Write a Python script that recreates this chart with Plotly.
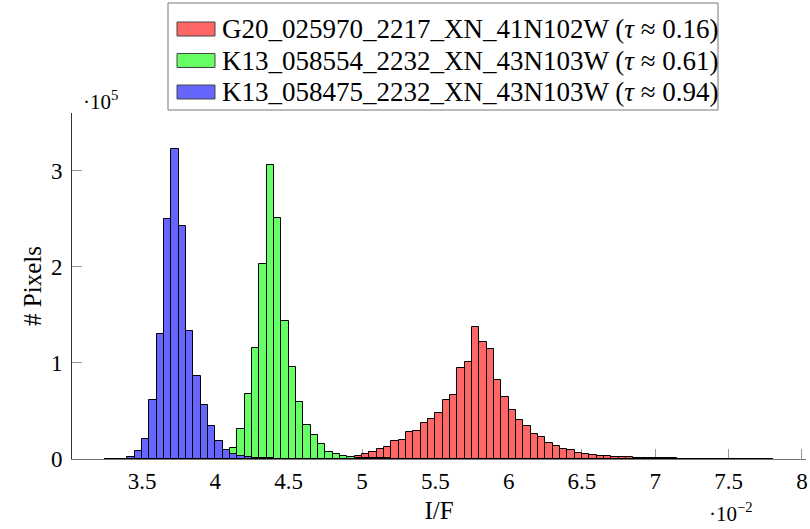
import plotly.graph_objects as go

# ---------------- data ----------------
bin_start = 3.25      # left edge of first bin (x 10^-2)
bin_width = 0.05

series_names = [
    "G20_025970_2217_XN_41N102W (<i>τ</i> ≈ 0.16)",
    "K13_058554_2232_XN_43N103W (<i>τ</i> ≈ 0.61)",
    "K13_058475_2232_XN_43N103W (<i>τ</i> ≈ 0.94)",
]

red_counts = [
    0, 0, 0, 0, 0, 0, 0, 0, 0, 0,
    0, 0, 0, 0, 0, 0, 0, 0, 0, 0,
    0, 0, 0, 0, 0, 50, 60, 80, 100, 150,
    300, 500, 800, 1500, 3600, 4700, 7300, 10700, 13000, 18700,
    20000, 28300, 28900, 37300, 41800, 48100, 61600, 66100, 94900, 101100,
    137600, 121500, 114300, 82400, 64700, 51500, 40800, 34100, 26200, 23100,
    16900, 13600, 10500, 9000, 6700, 5700, 4000, 3600, 2900, 2300,
    2100, 1900, 1300, 1100, 900, 800, 700, 600, 500, 450,
    400, 350, 300, 250, 220, 200, 180, 150, 130, 110,
    100,
]

green_counts = [
    0, 0, 0, 0, 0, 0, 0, 0, 0, 0,
    0, 0, 0, 200, 500, 1500, 5500, 11600, 30700, 67800,
    115300, 202400, 306400, 250300, 143800, 95500, 59500, 35600, 25200, 15400,
    7100, 4800, 3600, 2000, 1500, 1100, 900, 700, 550, 450,
    350, 300, 250, 200, 160, 130, 100, 80, 60, 50,
    0, 0, 0, 0, 0, 0, 0, 0, 0, 0,
    0, 0, 0, 0, 0, 0, 0, 0, 0, 0,
    0, 0, 0, 0, 0, 0, 0, 0, 0, 0,
    0, 0, 0, 0, 0, 0, 0, 0, 0, 0,
    0,
]

blue_counts = [
    100, 200, 500, 2300, 8000, 21300, 61600, 129900, 250000, 322800,
    242200, 133000, 86600, 55900, 34000, 19000, 9700, 5400, 3600, 2300,
    1500, 1000, 700, 500, 400, 300, 250, 200, 150, 120,
    100, 0, 0, 0, 0, 0, 0, 0, 0, 0,
    0, 0, 0, 0, 0, 0, 0, 0, 0, 0,
    0, 0, 0, 0, 0, 0, 0, 0, 0, 0,
    0, 0, 0, 0, 0, 0, 0, 0, 0, 0,
    0, 0, 0, 0, 0, 0, 0, 0, 0, 0,
    0, 0, 0, 0, 0, 0, 0, 0, 0, 0,
    0,
]

series_counts = [red_counts, green_counts, blue_counts]
series_colors = ["#ff6666", "#66ff66", "#6666ff"]

x_tick_vals = [3.5, 4, 4.5, 5, 5.5, 6, 6.5, 7, 7.5, 8]
x_tick_text = ["3.5", "4", "4.5", "5", "5.5", "6", "6.5", "7", "7.5", "8"]
y_tick_vals = [0, 100000, 200000, 300000]
y_tick_text = ["0", "1", "2", "3"]

# ---------------- layout geometry ----------------
W, H = 810, 529
ML, MR, MT, MB = 72, 4, 113, 70
PW, PH = W - ML - MR, H - MT - MB
FONT = "Liberation Serif"


def px2x(px):
    return (px - ML) / PW


def py2y(py):
    return (H - MB - py) / PH


fig = go.Figure()
for name, counts, color in zip(series_names, series_counts, series_colors):
    centers = [bin_start + bin_width * (i + 0.5) for i in range(len(counts))]
    fig.add_trace(go.Bar(
        x=centers, y=counts, width=bin_width, name=name,
        marker=dict(color=color, line=dict(color="black", width=1)),
        showlegend=False,
    ))

# custom legend (wide swatches like pgfplots)
shapes = [dict(type="rect", xref="paper", yref="paper",
               x0=px2x(168), x1=px2x(718), y0=py2y(110), y1=py2y(3),
               line=dict(color="#777777", width=1), fillcolor="white", layer="above")]
annotations = []
row_y = [29, 60.5, 92]
for name, color, ry in zip(series_names, series_colors, row_y):
    shapes.append(dict(type="rect", xref="paper", yref="paper",
                       x0=px2x(177), x1=px2x(215), y0=py2y(ry + 7), y1=py2y(ry - 7),
                       line=dict(color="#444444", width=1), fillcolor=color, layer="above"))
    annotations.append(dict(xref="paper", yref="paper", x=px2x(220), y=py2y(ry),
                            xanchor="left", yanchor="middle", text=name, showarrow=False,
                            font=dict(family=FONT, size=27, color="black")))

annotations.append(dict(xref="paper", yref="paper", x=px2x(100), y=py2y(100),
                        xanchor="center", yanchor="middle", text="·10<sup>5</sup>",
                        showarrow=False, font=dict(family=FONT, size=21, color="black")))
annotations.append(dict(xref="paper", yref="paper", x=px2x(731), y=py2y(512),
                        xanchor="center", yanchor="middle", text="·10<sup>−2</sup>",
                        showarrow=False, font=dict(family=FONT, size=21, color="black")))

fig.update_layout(
    width=W, height=H,
    margin=dict(l=ML, r=MR, t=MT, b=MB, pad=0),
    paper_bgcolor="white", plot_bgcolor="white",
    barmode="overlay", bargap=0,
    shapes=shapes, annotations=annotations,
    font=dict(family=FONT, size=23, color="black"),
    xaxis=dict(
        range=[3.0225, 8.0275], tickvals=x_tick_vals, ticktext=x_tick_text,
        ticks="inside", ticklen=10, tickcolor="#999999", tickwidth=1,
        showline=True, linecolor="#777777", linewidth=1, showgrid=False, zeroline=False,
        layer="below traces", tickfont=dict(family=FONT, size=23),
        ticklabelstandoff=1,
        title=dict(text="I/F", font=dict(family=FONT, size=25), standoff=8),
        automargin=False,
    ),
    yaxis=dict(
        range=[0, 360000], tickvals=y_tick_vals, ticktext=y_tick_text,
        ticks="inside", ticklen=10, tickcolor="#999999", tickwidth=1,
        showline=True, linecolor="#333333", linewidth=1, showgrid=False, zeroline=False,
        layer="below traces", tickfont=dict(family=FONT, size=23),
        ticklabelstandoff=4,
        title=dict(text="# Pixels", font=dict(family=FONT, size=25), standoff=2),
        automargin=False,
    ),
)

fig.write_html("out.html")
